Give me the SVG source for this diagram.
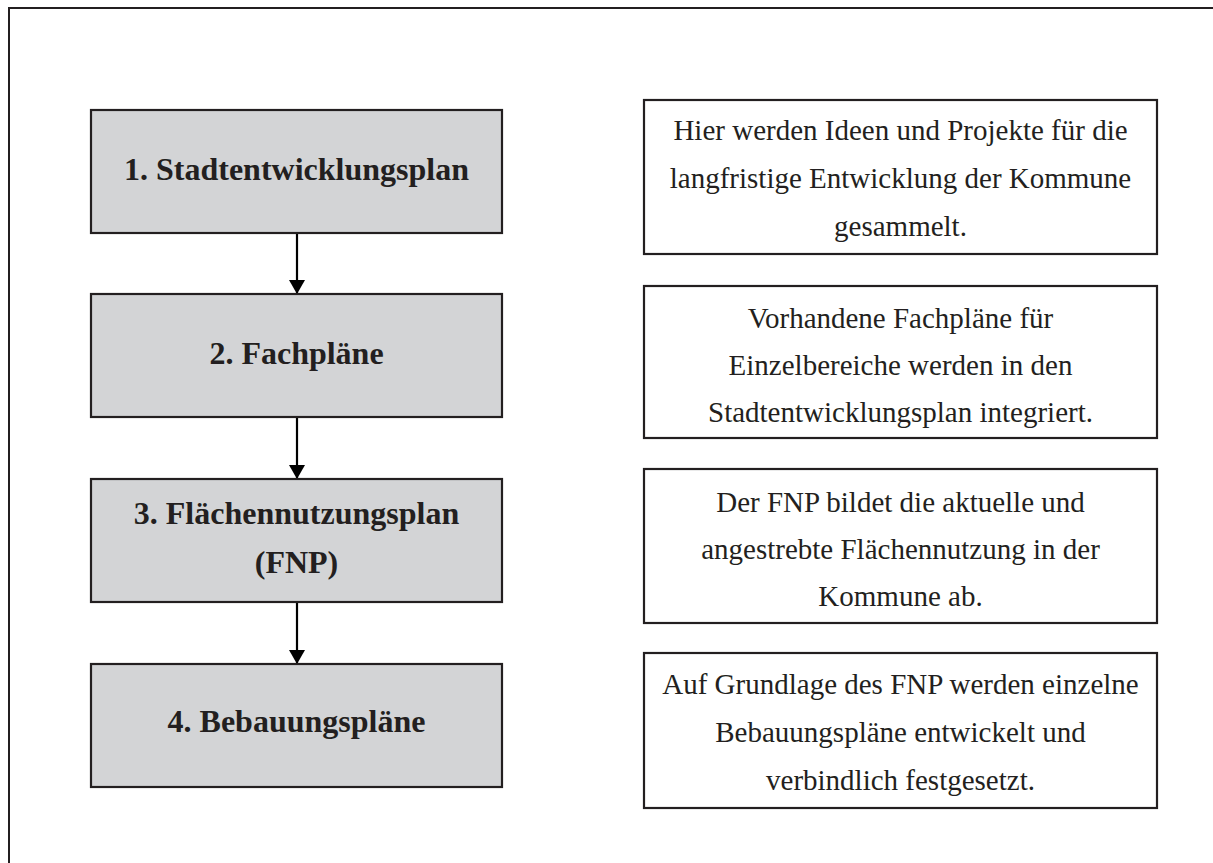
<svg xmlns="http://www.w3.org/2000/svg" width="1213" height="863" viewBox="0 0 1213 863">
<style>
.frame{fill:none;stroke:#231f20;stroke-width:2}
.step{fill:#d3d4d6;stroke:#231f20;stroke-width:2.2}
.desc{fill:#ffffff;stroke:#231f20;stroke-width:2.2}
.st{font-family:"Liberation Serif","Times New Roman",Times,serif;font-weight:bold;font-size:32px;fill:#231f20;text-anchor:middle}
.dt{font-family:"Liberation Serif","Times New Roman",Times,serif;font-size:29px;fill:#231f20;text-anchor:middle}
.conn{stroke:#000;stroke-width:2.2;fill:none}
</style>
<defs>
<marker id="ah" viewBox="0 0 14 16" refX="14" refY="8" markerWidth="14" markerHeight="16" markerUnits="userSpaceOnUse" orient="auto">
<path d="M0,0 L14,8 L0,16 Z" fill="#000"/>
</marker>
</defs>
<rect class="frame" x="9" y="8" width="1210" height="862"/>
<g id="connectors">
<line class="conn" x1="297" y1="234" x2="297" y2="294" marker-end="url(#ah)"/>
<line class="conn" x1="297" y1="418" x2="297" y2="479" marker-end="url(#ah)"/>
<line class="conn" x1="297" y1="603" x2="297" y2="664" marker-end="url(#ah)"/>
</g>
<g id="step1">
<rect class="step" x="91" y="110" width="411" height="123"/>
<text class="st" x="296.5" y="180">1. Stadtentwicklungsplan</text>
</g>
<g id="step2">
<rect class="step" x="91" y="294" width="411" height="123"/>
<text class="st" x="296.5" y="364">2. Fachpläne</text>
</g>
<g id="step3">
<rect class="step" x="91" y="479" width="411" height="123"/>
<text class="st" x="296.5" y="524">3. Flächennutzungsplan</text>
<text class="st" x="296.5" y="573">(FNP)</text>
</g>
<g id="step4">
<rect class="step" x="91" y="664" width="411" height="123"/>
<text class="st" x="296.5" y="732">4. Bebauungspläne</text>
</g>
<g id="desc1">
<rect class="desc" x="644" y="100" width="513" height="154"/>
<text class="dt" x="900.5" y="140">Hier werden Ideen und Projekte für die</text>
<text class="dt" x="900.5" y="188">langfristige Entwicklung der Kommune</text>
<text class="dt" x="900.5" y="236">gesammelt.</text>
</g>
<g id="desc2">
<rect class="desc" x="644" y="286" width="513" height="152"/>
<text class="dt" x="900.5" y="328">Vorhandene Fachpläne für</text>
<text class="dt" x="900.5" y="375">Einzelbereiche werden in den</text>
<text class="dt" x="900.5" y="422">Stadtentwicklungsplan integriert.</text>
</g>
<g id="desc3">
<rect class="desc" x="644" y="469" width="513" height="154"/>
<text class="dt" x="900.5" y="512">Der FNP bildet die aktuelle und</text>
<text class="dt" x="900.5" y="559">angestrebte Flächennutzung in der</text>
<text class="dt" x="900.5" y="606">Kommune ab.</text>
</g>
<g id="desc4">
<rect class="desc" x="644" y="653" width="513" height="155"/>
<text class="dt" x="900.5" y="694">Auf Grundlage des FNP werden einzelne</text>
<text class="dt" x="900.5" y="742">Bebauungspläne entwickelt und</text>
<text class="dt" x="900.5" y="790">verbindlich festgesetzt.</text>
</g>
</svg>
